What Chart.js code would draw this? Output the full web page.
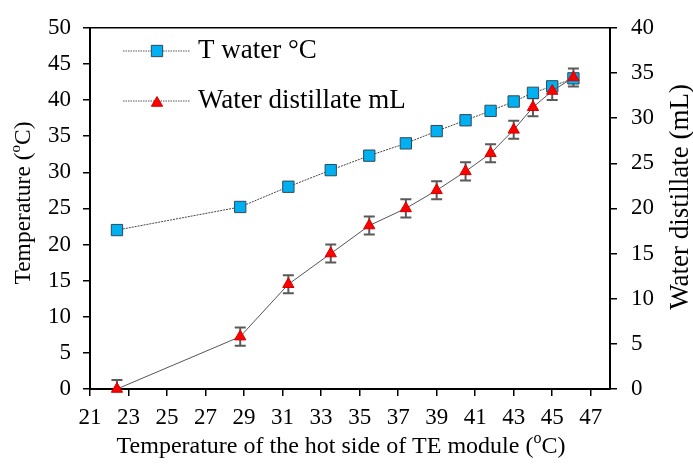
<!DOCTYPE html>
<html>
<head>
<meta charset="utf-8">
<script src="https://cdn.jsdelivr.net/npm/chart.js@4.4.0/dist/chart.umd.min.js"></script>
<style>
  html, body { margin: 0; padding: 0; background: #fff; }
  #wrap { width: 693px; height: 470px; position: relative; }
</style>
</head>
<body>
<div id="wrap"><canvas id="c" width="693" height="470"></canvas></div>
<script>
// ---- data ----
const hotSide    = [22.4, 28.8, 31.3, 33.5, 35.5, 37.4, 39.0, 40.5, 41.8, 43.0, 44.0, 45.0, 46.1];
const waterTemp  = [22.0, 25.2, 28.0, 30.3, 32.3, 34.0, 35.7, 37.2, 38.5, 39.8, 41.0, 41.9, 43.0];
const distillate = [0.0, 5.8, 11.6, 15.0, 18.1, 20.0, 22.0, 24.1, 26.1, 28.7, 31.2, 33.0, 34.5];
const distErr    = [1.0, 1.0, 1.0, 1.0, 1.0, 1.0, 1.0, 1.0, 1.0, 1.0, 1.0, 1.0, 1.0];
const xTicks     = [21, 23, 25, 27, 29, 31, 33, 35, 37, 39, 41, 43, 45, 47];
const seriesNames = ['T water \u00B0C', 'Water distillate mL'];

const FONT = 'Liberation Serif, Times New Roman, serif';
Chart.defaults.font.family = FONT;
Chart.defaults.font.size = 23;
Chart.defaults.color = '#000';

const SQ_FILL = '#00B0F0', SQ_EDGE = '#2d4a5a';
const TR_FILL = '#FF0000', TR_EDGE = '#d00000';

function drawRich(ctx, parts, cx, cy, rot, size) {
  ctx.save();
  ctx.translate(cx, cy);
  ctx.rotate(rot);
  ctx.textBaseline = 'middle';
  ctx.fillStyle = '#000';
  let total = 0;
  const widths = parts.map(p => {
    ctx.font = (p.sup ? Math.round(size * 0.65) : size) + 'px ' + FONT;
    const w = ctx.measureText(p.t).width;
    total += w;
    return w;
  });
  let x = -total / 2;
  parts.forEach((p, i) => {
    ctx.font = (p.sup ? Math.round(size * 0.65) : size) + 'px ' + FONT;
    ctx.textAlign = 'left';
    ctx.fillText(p.t, x, p.sup ? -size * 0.33 : 0);
    x += widths[i];
  });
  ctx.restore();
}

const extras = {
  id: 'extras',
  beforeDatasetsDraw(chart) {
    const ctx = chart.ctx, a = chart.chartArea;
    const xs = chart.scales.x, ys = chart.scales.y2;
    ctx.save();
    ctx.beginPath();
    ctx.rect(a.left, a.top, a.right - a.left, a.bottom - a.top);
    ctx.clip();
    ctx.strokeStyle = '#5a5a5a';
    ctx.lineWidth = 2;
    hotSide.forEach((xv, i) => {
      const px = xs.getPixelForValue(xv);
      const t = ys.getPixelForValue(distillate[i] + distErr[i]);
      const b = ys.getPixelForValue(distillate[i] - distErr[i]);
      ctx.beginPath();
      ctx.moveTo(px, t); ctx.lineTo(px, b);
      ctx.moveTo(px - 5.5, t); ctx.lineTo(px + 5.5, t);
      ctx.moveTo(px - 5.5, b); ctx.lineTo(px + 5.5, b);
      ctx.stroke();
    });
    ctx.restore();
  },
  afterDraw(chart) {
    const ctx = chart.ctx, a = chart.chartArea;
    // top frame line
    ctx.save();
    ctx.strokeStyle = '#000';
    ctx.lineWidth = 1.5;
    ctx.beginPath();
    ctx.moveTo(a.left - 1, a.top);
    ctx.lineTo(a.right + 1, a.top);
    ctx.stroke();
    ctx.restore();

    // legend
    const rows = [
      { y: 51, name: seriesNames[0], style: 'rect', fill: SQ_FILL, edge: SQ_EDGE, r: 8 },
      { y: 101, name: seriesNames[1], style: 'triangle', fill: TR_FILL, edge: TR_EDGE, r: 6.5 }
    ];
    rows.forEach(row => {
      ctx.save();
      ctx.strokeStyle = '#555';
      ctx.lineWidth = 1;
      ctx.setLineDash([1.5, 1]);
      ctx.beginPath();
      ctx.moveTo(123, row.y); ctx.lineTo(190, row.y);
      ctx.stroke();
      ctx.setLineDash([]);
      ctx.restore();
      ctx.save();
      ctx.fillStyle = row.fill;
      ctx.strokeStyle = row.edge;
      ctx.lineWidth = 1;
      Chart.helpers.drawPoint(ctx, { pointStyle: row.style, radius: row.r, rotation: 0, borderWidth: 1 }, 157, row.style === 'triangle' ? row.y + 2 : row.y);
      ctx.restore();
      ctx.save();
      ctx.fillStyle = '#000';
      ctx.font = '27px ' + FONT;
      ctx.textAlign = 'left';
      ctx.textBaseline = 'middle';
      ctx.fillText(row.name, 198, row.y);
      ctx.restore();
    });

    // axis titles
    drawRich(ctx, [{ t: 'Temperature (' }, { t: 'o', sup: true }, { t: 'C)' }], 24, 203, -Math.PI / 2, 23.5);
    drawRich(ctx, [{ t: 'Water distillate (mL)' }], 681, 197, -Math.PI / 2, 27);
    drawRich(ctx, [{ t: 'Temperature of the hot side of TE module (' }, { t: 'o', sup: true }, { t: 'C)' }], 341, 447, 0, 24);
  }
};

const axisGrid = { drawOnChartArea: false, drawTicks: true, tickLength: 7, color: '#000', lineWidth: 1.5 };
const axisBorder = { display: true, color: '#000', width: 2 };

new Chart(document.getElementById('c'), {
  type: 'line',
  data: {
    datasets: [
      {
        label: seriesNames[0],
        data: hotSide.map((x, i) => ({ x: x, y: waterTemp[i] })),
        yAxisID: 'y',
        borderColor: '#444',
        borderWidth: 1,
        borderDash: [2, 1],
        pointStyle: 'rect',
        pointRadius: 8,
        pointBackgroundColor: SQ_FILL,
        pointBorderColor: SQ_EDGE,
        pointBorderWidth: 1,
        tension: 0,
        order: 2
      },
      {
        label: seriesNames[1],
        data: hotSide.map((x, i) => ({ x: x, y: distillate[i] })),
        yAxisID: 'y2',
        borderColor: '#555',
        borderWidth: 1,
        pointStyle: 'triangle',
        pointRadius: 6.5,
        pointBackgroundColor: TR_FILL,
        pointBorderColor: TR_EDGE,
        pointBorderWidth: 1,
        tension: 0,
        order: 1,
        clip: false
      }
    ]
  },
  options: {
    responsive: false,
    animation: false,
    layout: { padding: { top: 19, left: 0, right: 0, bottom: 0 } },
    plugins: { legend: { display: false }, tooltip: { enabled: false } },
    scales: {
      x: {
        type: 'linear',
        min: 21, max: 48,
        afterBuildTicks(s) { s.ticks = xTicks.map(v => ({ value: v })); },
        afterFit(s) { s.height = 81; },
        grid: axisGrid,
        border: axisBorder,
        ticks: { padding: 8, maxRotation: 0, autoSkip: false, font: { size: 23 } }
      },
      y: {
        position: 'left',
        min: 0, max: 50,
        afterFit(s) { s.width = 90; },
        grid: axisGrid,
        border: axisBorder,
        ticks: { stepSize: 5, padding: 12, font: { size: 23 } }
      },
      y2: {
        position: 'right',
        min: 0, max: 40,
        afterFit(s) { s.width = 83; },
        grid: axisGrid,
        border: axisBorder,
        ticks: { stepSize: 5, padding: 14, font: { size: 23 } }
      }
    }
  },
  plugins: [extras]
});
</script>
</body>
</html>
